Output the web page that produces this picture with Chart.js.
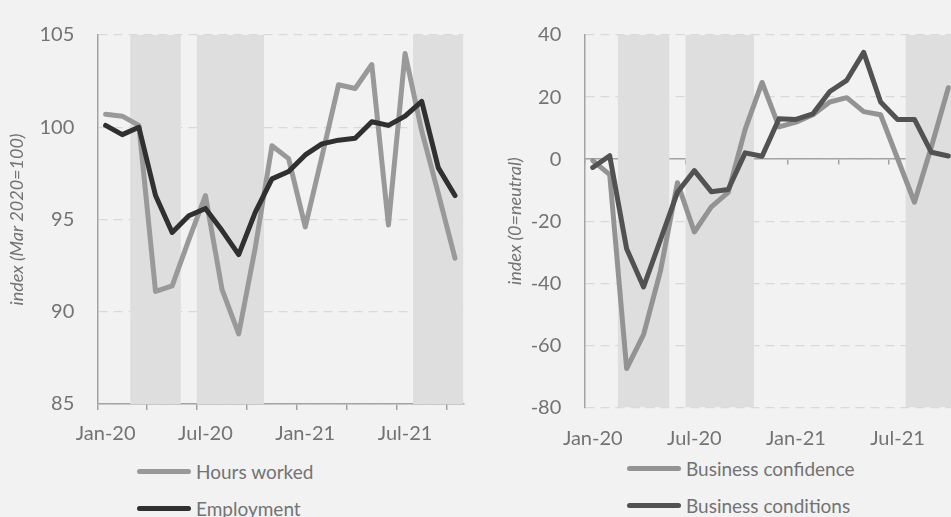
<!DOCTYPE html>
<html>
<head>
<meta charset="utf-8">
<script src="https://cdn.jsdelivr.net/npm/chart.js@4.4.1/dist/chart.umd.min.js"></script>
<style>
  html, body { margin: 0; padding: 0; }
  body { width: 951px; height: 517px; overflow: hidden; background: #f2f2f2; position: relative; font-family: Lato, sans-serif; }
  .panel { position: absolute; top: 0; }
  #left { left: 0; }
  #right { left: 480px; }
  .legend { position: absolute; color: #737373; font-size: 19px; }
  .legend-item { display: flex; align-items: center; height: 37px; white-space: nowrap; }
  .legend-line { display: inline-block; width: 54px; height: 5px; border-radius: 3px; margin-right: 5px; }
</style>
</head>
<body>
<div class="panel" id="left"><canvas id="leftChart" width="480" height="450"></canvas></div>
<div class="panel" id="right"><canvas id="rightChart" width="490" height="450"></canvas></div>
<div class="legend" id="leftLegend" style="left:137px; top:453px;"></div>
<div class="legend" id="rightLegend" style="left:627px; top:450px;"></div>
<script>
const months = ['Jan-20', 'Feb-20', 'Mar-20', 'Apr-20', 'May-20', 'Jun-20', 'Jul-20', 'Aug-20', 'Sep-20', 'Oct-20', 'Nov-20', 'Dec-20',
  'Jan-21', 'Feb-21', 'Mar-21', 'Apr-21', 'May-21', 'Jun-21', 'Jul-21', 'Aug-21', 'Sep-21', 'Oct-21'];
// 1 = lockdown month (shaded)
const lockdown = [0, 0, 1, 1, 1, 0, 1, 1, 1, 1, 0, 0, 0, 0, 0, 0, 0, 0, 0, 1, 1, 1];

const hoursWorked = [100.7, 100.6, 100.1, 91.1, 91.4, 93.9, 96.3, 91.2, 88.8, 93.5, 99.0, 98.3,
  94.6, 98.4, 102.3, 102.1, 103.4, 94.7, 104.0, 99.8, 96.4, 92.9];
const employment = [100.1, 99.6, 100.0, 96.3, 94.3, 95.2, 95.6, 94.4, 93.1, 95.4, 97.2, 97.6,
  98.5, 99.1, 99.3, 99.4, 100.3, 100.1, 100.6, 101.4, 97.8, 96.3];
const businessConfidence = [-0.5, -5, -67.5, -56.6, -36, -7.6, -23.5, -15.4, -10.7, 9.6, 24.7, 10.4,
  11.9, 14.3, 18.4, 19.8, 15.3, 14.3, 0.2, -13.9, 4, 23];
const businessConditions = [-2.7, 1.1, -28.9, -41.2, -26, -10.7, -3.7, -10.5, -9.8, 2.0, 0.9, 13.0,
  12.8, 14.6, 21.8, 25.4, 34.4, 18.4, 12.8, 12.8, 2.2, 1.0];

const leftYTicks = [85, 90, 95, 100, 105];
const rightYTicks = [-80, -60, -40, -20, 0, 20, 40];

const shade = '#dedede';
const textColor = '#737373';
const axisColor = '#a3a3a3';
const gridColor = '#d9d9d9';
const tickFont = { family: 'Lato', size: 20 };
const titleFont = { family: 'Lato', size: 18, style: 'italic' };

function shadeData(ticks) {
  const lo = ticks[0], hi = ticks[ticks.length - 1];
  return lockdown.map(f => (f ? [lo, hi] : null));
}
// tick marks every quarter, labels every half year
function tickMarkColor(ctx) {
  return ctx.index % 3 === 0 ? axisColor : 'rgba(0,0,0,0)';
}
function monthLabel(v, i) {
  return i % 6 === 0 ? months[i] : '';
}
function line(label, data, color, order) {
  return {
    type: 'line', label, data, borderColor: color, backgroundColor: color,
    borderWidth: 5, pointRadius: 0, tension: 0, borderJoinStyle: 'round', borderCapStyle: 'round',
    order, xAxisID: 'x', yAxisID: 'y'
  };
}
function shading(ticks) {
  return {
    type: 'bar', label: 'lockdown', data: shadeData(ticks), backgroundColor: shade,
    barPercentage: 1, categoryPercentage: 1, borderWidth: 0, order: 3, xAxisID: 'x', yAxisID: 'y'
  };
}
function yScale(ticks, title, width, titlePad) {
  return {
    min: ticks[0], max: ticks[ticks.length - 1],
    afterBuildTicks(s) { s.ticks = ticks.map(v => ({ value: v })); },
    grid: { color: gridColor, drawTicks: false, lineWidth: 1.3 },
    border: { color: axisColor, width: 1.5, dash: [9, 6] },
    ticks: { padding: 23, color: textColor, font: tickFont },
    title: { display: true, text: title, color: textColor, font: titleFont, padding: { top: titlePad, bottom: 0 } },
    afterFit(s) { s.width = width; }
  };
}
function buildLegend(chart, el) {
  chart.data.datasets.filter(d => d.type === 'line').forEach(d => {
    const item = document.createElement('div');
    item.className = 'legend-item';
    const sample = document.createElement('span');
    sample.className = 'legend-line';
    sample.style.background = d.borderColor;
    item.appendChild(sample);
    item.appendChild(document.createTextNode(d.label));
    el.appendChild(item);
  });
}

const leftChart = new Chart(document.getElementById('leftChart'), {
  type: 'bar',
  data: {
    labels: months,
    datasets: [
      line('Hours worked', hoursWorked, '#999999', 2),
      line('Employment', employment, '#303030', 1),
      shading(leftYTicks)
    ]
  },
  options: {
    responsive: false,
    animation: false,
    layout: { padding: { left: 0, right: 16.7, top: 24, bottom: 0 } },
    plugins: { legend: { display: false }, tooltip: { enabled: false } },
    scales: {
      x: {
        offset: true,
        grid: { offset: true, drawOnChartArea: false, tickLength: 6, color: tickMarkColor, tickColor: tickMarkColor, lineWidth: 1.5 },
        border: { color: axisColor, width: 1.5 },
        ticks: { autoSkip: false, maxRotation: 0, padding: 12, color: textColor, font: tickFont, callback: monthLabel },
        afterFit(s) { s.height = 46; }
      },
      y: yScale(leftYTicks, 'index (Mar 2020=100)', 97.3, 6.5)
    }
  }
});

const rightChart = new Chart(document.getElementById('rightChart'), {
  type: 'bar',
  data: {
    labels: months,
    datasets: [
      line('Business confidence', businessConfidence, '#939393', 2),
      line('Business conditions', businessConditions, '#525252', 1),
      shading(rightYTicks)
    ]
  },
  options: {
    responsive: false,
    animation: false,
    layout: { padding: { left: 0, right: 13.2, top: 23.3, bottom: 0 } },
    plugins: { legend: { display: false }, tooltip: { enabled: false } },
    scales: {
      x: {
        offset: true,
        grid: { display: false, drawTicks: false },
        border: { display: false },
        ticks: { autoSkip: false, maxRotation: 0, padding: 19, color: textColor, font: tickFont, callback: monthLabel },
        afterFit(s) { s.height = 42.7; }
      },
      xz: {
        type: 'category',
        position: { y: 0 },
        offset: true,
        grid: { offset: true, drawOnChartArea: false, tickLength: 5, color: tickMarkColor, tickColor: tickMarkColor, lineWidth: 1.5 },
        border: { color: axisColor, width: 1.5 },
        ticks: { display: false, autoSkip: false }
      },
      y: yScale(rightYTicks, 'index (0=neutral)', 104.3, 24.2)
    }
  }
});

buildLegend(leftChart, document.getElementById('leftLegend'));
buildLegend(rightChart, document.getElementById('rightLegend'));
</script>
</body>
</html>
